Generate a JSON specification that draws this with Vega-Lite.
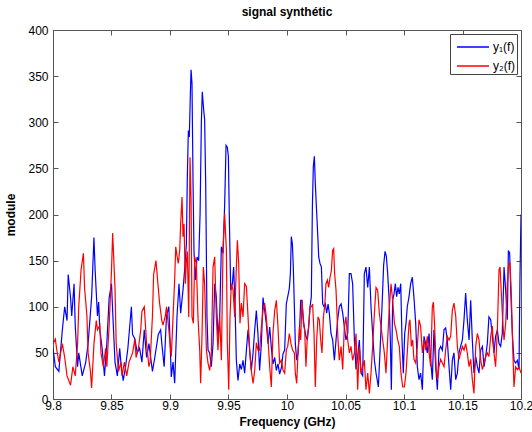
{
  "$schema": "https://vega.github.io/schema/vega-lite/v6.json",
  "width": 468,
  "height": 369,
  "autosize": {"type": "none"},
  "padding": {"left": 53, "top": 30, "right": 11, "bottom": 33},
  "title": {"text": "signal synthétic", "font": "Liberation Sans", "fontSize": 12, "fontWeight": "bold", "color": "black", "offset": 5},
  "datasets": {
    "sig": [
      {"f":9.800,"v":55,"s":"y₁(f)"},{"f":9.802,"v":35,"s":"y₁(f)"},{"f":9.805,"v":30,"s":"y₁(f)"},{"f":9.808,"v":75,"s":"y₁(f)"},{"f":9.810,"v":100,"s":"y₁(f)"},{"f":9.812,"v":85,"s":"y₁(f)"},{"f":9.813,"v":135,"s":"y₁(f)"},{"f":9.815,"v":110,"s":"y₁(f)"},{"f":9.816,"v":90,"s":"y₁(f)"},{"f":9.818,"v":125,"s":"y₁(f)"},{"f":9.819,"v":80,"s":"y₁(f)"},{"f":9.821,"v":35,"s":"y₁(f)"},{"f":9.822,"v":50,"s":"y₁(f)"},{"f":9.825,"v":25,"s":"y₁(f)"},{"f":9.828,"v":40,"s":"y₁(f)"},{"f":9.830,"v":60,"s":"y₁(f)"},{"f":9.833,"v":110,"s":"y₁(f)"},{"f":9.835,"v":175,"s":"y₁(f)"},{"f":9.836,"v":140,"s":"y₁(f)"},{"f":9.838,"v":90,"s":"y₁(f)"},{"f":9.839,"v":105,"s":"y₁(f)"},{"f":9.840,"v":75,"s":"y₁(f)"},{"f":9.842,"v":55,"s":"y₁(f)"},{"f":9.844,"v":25,"s":"y₁(f)"},{"f":9.846,"v":60,"s":"y₁(f)"},{"f":9.848,"v":110,"s":"y₁(f)"},{"f":9.850,"v":125,"s":"y₁(f)"},{"f":9.851,"v":95,"s":"y₁(f)"},{"f":9.853,"v":40,"s":"y₁(f)"},{"f":9.855,"v":25,"s":"y₁(f)"},{"f":9.857,"v":55,"s":"y₁(f)"},{"f":9.858,"v":40,"s":"y₁(f)"},{"f":9.860,"v":20,"s":"y₁(f)"},{"f":9.862,"v":35,"s":"y₁(f)"},{"f":9.864,"v":55,"s":"y₁(f)"},{"f":9.867,"v":100,"s":"y₁(f)"},{"f":9.868,"v":70,"s":"y₁(f)"},{"f":9.870,"v":65,"s":"y₁(f)"},{"f":9.872,"v":50,"s":"y₁(f)"},{"f":9.874,"v":55,"s":"y₁(f)"},{"f":9.876,"v":40,"s":"y₁(f)"},{"f":9.878,"v":75,"s":"y₁(f)"},{"f":9.880,"v":45,"s":"y₁(f)"},{"f":9.882,"v":60,"s":"y₁(f)"},{"f":9.885,"v":30,"s":"y₁(f)"},{"f":9.887,"v":45,"s":"y₁(f)"},{"f":9.890,"v":70,"s":"y₁(f)"},{"f":9.892,"v":75,"s":"y₁(f)"},{"f":9.893,"v":60,"s":"y₁(f)"},{"f":9.895,"v":35,"s":"y₁(f)"},{"f":9.897,"v":90,"s":"y₁(f)"},{"f":9.899,"v":100,"s":"y₁(f)"},
      {"f":9.9011,"v":24,"s":"y₁(f)"},{"f":9.9026,"v":40,"s":"y₁(f)"},{"f":9.904,"v":17,"s":"y₁(f)"},{"f":9.906,"v":90,"s":"y₁(f)"},{"f":9.9077,"v":125,"s":"y₁(f)"},{"f":9.9091,"v":93,"s":"y₁(f)"},{"f":9.9111,"v":118,"s":"y₁(f)"},{"f":9.9125,"v":140,"s":"y₁(f)"},{"f":9.914,"v":168,"s":"y₁(f)"},{"f":9.9148,"v":240,"s":"y₁(f)"},{"f":9.9157,"v":291,"s":"y₁(f)"},{"f":9.9165,"v":284,"s":"y₁(f)"},{"f":9.9174,"v":330,"s":"y₁(f)"},{"f":9.918,"v":357,"s":"y₁(f)"},{"f":9.9188,"v":342,"s":"y₁(f)"},{"f":9.9197,"v":234,"s":"y₁(f)"},{"f":9.9205,"v":161,"s":"y₁(f)"},{"f":9.9217,"v":129,"s":"y₁(f)"},{"f":9.9231,"v":154,"s":"y₁(f)"},{"f":9.9245,"v":150,"s":"y₁(f)"},{"f":9.9257,"v":200,"s":"y₁(f)"},{"f":9.9268,"v":300,"s":"y₁(f)"},{"f":9.9276,"v":333,"s":"y₁(f)"},{"f":9.9288,"v":313,"s":"y₁(f)"},{"f":9.9296,"v":303,"s":"y₁(f)"},{"f":9.9305,"v":234,"s":"y₁(f)"},{"f":9.9316,"v":89,"s":"y₁(f)"},{"f":9.9325,"v":53,"s":"y₁(f)"},{"f":9.9339,"v":50,"s":"y₁(f)"},{"f":9.9353,"v":35,"s":"y₁(f)"},{"f":9.9368,"v":60,"s":"y₁(f)"},{"f":9.9382,"v":125,"s":"y₁(f)"},{"f":9.9396,"v":110,"s":"y₁(f)"},{"f":9.941,"v":67,"s":"y₁(f)"},{"f":9.9425,"v":90,"s":"y₁(f)"},{"f":9.9439,"v":165,"s":"y₁(f)"},{"f":9.9453,"v":158,"s":"y₁(f)"},{"f":9.9467,"v":210,"s":"y₁(f)"},{"f":9.9479,"v":275,"s":"y₁(f)"},{"f":9.949,"v":273,"s":"y₁(f)"},{"f":9.9499,"v":263,"s":"y₁(f)"},{"f":9.9507,"v":197,"s":"y₁(f)"},{"f":9.9519,"v":118,"s":"y₁(f)"},{"f":9.9533,"v":125,"s":"y₁(f)"},{"f":9.9544,"v":143,"s":"y₁(f)"},{"f":9.9556,"v":100,"s":"y₁(f)"},{"f":9.9567,"v":42,"s":"y₁(f)"},{"f":9.9581,"v":20,"s":"y₁(f)"},{"f":9.9596,"v":38,"s":"y₁(f)"},{"f":9.961,"v":32,"s":"y₁(f)"},{"f":9.9624,"v":42,"s":"y₁(f)"},{"f":9.9638,"v":28,"s":"y₁(f)"},{"f":9.9653,"v":53,"s":"y₁(f)"},{"f":9.9667,"v":75,"s":"y₁(f)"},{"f":9.9681,"v":53,"s":"y₁(f)"},{"f":9.9695,"v":31,"s":"y₁(f)"},{"f":9.971,"v":50,"s":"y₁(f)"},{"f":9.9724,"v":75,"s":"y₁(f)"},{"f":9.9738,"v":96,"s":"y₁(f)"},{"f":9.9752,"v":70,"s":"y₁(f)"},{"f":9.9766,"v":31,"s":"y₁(f)"},{"f":9.9781,"v":60,"s":"y₁(f)"},{"f":9.9795,"v":110,"s":"y₁(f)"},{"f":9.9809,"v":96,"s":"y₁(f)"},{"f":9.9823,"v":82,"s":"y₁(f)"},{"f":9.9838,"v":60,"s":"y₁(f)"},{"f":9.9852,"v":78,"s":"y₁(f)"},{"f":9.9866,"v":56,"s":"y₁(f)"},{"f":9.988,"v":38,"s":"y₁(f)"},{"f":9.9895,"v":45,"s":"y₁(f)"},{"f":9.9909,"v":31,"s":"y₁(f)"},{"f":9.9923,"v":38,"s":"y₁(f)"},{"f":9.9937,"v":27,"s":"y₁(f)"},{"f":9.9952,"v":34,"s":"y₁(f)"},{"f":9.9966,"v":49,"s":"y₁(f)"},{"f":9.998,"v":53,"s":"y₁(f)"},{"f":9.9994,"v":103,"s":"y₁(f)"},
      {"f":10.002,"v":120,"s":"y₁(f)"},{"f":10.0029,"v":136,"s":"y₁(f)"},{"f":10.0037,"v":176,"s":"y₁(f)"},{"f":10.0046,"v":168,"s":"y₁(f)"},{"f":10.0054,"v":143,"s":"y₁(f)"},{"f":10.0063,"v":100,"s":"y₁(f)"},{"f":10.0071,"v":60,"s":"y₁(f)"},{"f":10.0083,"v":42,"s":"y₁(f)"},{"f":10.0094,"v":50,"s":"y₁(f)"},{"f":10.0106,"v":71,"s":"y₁(f)"},{"f":10.0117,"v":107,"s":"y₁(f)"},{"f":10.0128,"v":107,"s":"y₁(f)"},{"f":10.014,"v":86,"s":"y₁(f)"},{"f":10.0151,"v":75,"s":"y₁(f)"},{"f":10.0162,"v":68,"s":"y₁(f)"},{"f":10.0174,"v":64,"s":"y₁(f)"},{"f":10.0185,"v":78,"s":"y₁(f)"},{"f":10.0197,"v":100,"s":"y₁(f)"},{"f":10.0208,"v":111,"s":"y₁(f)"},{"f":10.0217,"v":209,"s":"y₁(f)"},{"f":10.0225,"v":252,"s":"y₁(f)"},{"f":10.0234,"v":263,"s":"y₁(f)"},{"f":10.0242,"v":234,"s":"y₁(f)"},{"f":10.0251,"v":209,"s":"y₁(f)"},{"f":10.0262,"v":180,"s":"y₁(f)"},{"f":10.0271,"v":154,"s":"y₁(f)"},{"f":10.0282,"v":147,"s":"y₁(f)"},{"f":10.0294,"v":143,"s":"y₁(f)"},{"f":10.0305,"v":103,"s":"y₁(f)"},{"f":10.0316,"v":100,"s":"y₁(f)"},{"f":10.0328,"v":103,"s":"y₁(f)"},{"f":10.0339,"v":93,"s":"y₁(f)"},{"f":10.0351,"v":103,"s":"y₁(f)"},{"f":10.0362,"v":93,"s":"y₁(f)"},{"f":10.0376,"v":71,"s":"y₁(f)"},{"f":10.039,"v":64,"s":"y₁(f)"},{"f":10.0405,"v":42,"s":"y₁(f)"},{"f":10.0419,"v":64,"s":"y₁(f)"},{"f":10.0433,"v":86,"s":"y₁(f)"},{"f":10.0447,"v":100,"s":"y₁(f)"},{"f":10.0462,"v":103,"s":"y₁(f)"},{"f":10.0476,"v":93,"s":"y₁(f)"},{"f":10.049,"v":78,"s":"y₁(f)"},{"f":10.0504,"v":64,"s":"y₁(f)"},{"f":10.0519,"v":71,"s":"y₁(f)"},{"f":10.0533,"v":136,"s":"y₁(f)"},{"f":10.0547,"v":136,"s":"y₁(f)"},{"f":10.0561,"v":125,"s":"y₁(f)"},{"f":10.0576,"v":64,"s":"y₁(f)"},{"f":10.059,"v":32,"s":"y₁(f)"},{"f":10.0604,"v":46,"s":"y₁(f)"},{"f":10.0618,"v":64,"s":"y₁(f)"},{"f":10.0633,"v":28,"s":"y₁(f)"},{"f":10.0647,"v":25,"s":"y₁(f)"},{"f":10.0661,"v":136,"s":"y₁(f)"},{"f":10.0675,"v":143,"s":"y₁(f)"},{"f":10.069,"v":121,"s":"y₁(f)"},{"f":10.0704,"v":143,"s":"y₁(f)"},{"f":10.0718,"v":100,"s":"y₁(f)"},{"f":10.0732,"v":71,"s":"y₁(f)"},{"f":10.0747,"v":42,"s":"y₁(f)"},{"f":10.0761,"v":28,"s":"y₁(f)"},{"f":10.0781,"v":13,"s":"y₁(f)"},{"f":10.0798,"v":60,"s":"y₁(f)"},{"f":10.0812,"v":100,"s":"y₁(f)"},{"f":10.0826,"v":145,"s":"y₁(f)"},{"f":10.0838,"v":160,"s":"y₁(f)"},{"f":10.0849,"v":155,"s":"y₁(f)"},{"f":10.0861,"v":135,"s":"y₁(f)"},{"f":10.0872,"v":110,"s":"y₁(f)"},{"f":10.0883,"v":65,"s":"y₁(f)"},{"f":10.0892,"v":10,"s":"y₁(f)"},{"f":10.0903,"v":107,"s":"y₁(f)"},{"f":10.0915,"v":114,"s":"y₁(f)"},{"f":10.0926,"v":125,"s":"y₁(f)"},{"f":10.0937,"v":111,"s":"y₁(f)"},{"f":10.0949,"v":121,"s":"y₁(f)"},{"f":10.096,"v":114,"s":"y₁(f)"},{"f":10.0972,"v":125,"s":"y₁(f)"},{"f":10.0983,"v":64,"s":"y₁(f)"},{"f":10.0994,"v":28,"s":"y₁(f)"},{"f":10.1006,"v":71,"s":"y₁(f)"},{"f":10.1017,"v":82,"s":"y₁(f)"},
      {"f":10.1028,"v":100,"s":"y₁(f)"},{"f":10.1043,"v":111,"s":"y₁(f)"},{"f":10.1057,"v":125,"s":"y₁(f)"},{"f":10.1071,"v":132,"s":"y₁(f)"},{"f":10.1085,"v":110,"s":"y₁(f)"},{"f":10.11,"v":82,"s":"y₁(f)"},{"f":10.1114,"v":35,"s":"y₁(f)"},{"f":10.1128,"v":21,"s":"y₁(f)"},{"f":10.1142,"v":28,"s":"y₁(f)"},{"f":10.1157,"v":10,"s":"y₁(f)"},{"f":10.1171,"v":68,"s":"y₁(f)"},{"f":10.1185,"v":60,"s":"y₁(f)"},{"f":10.1199,"v":50,"s":"y₁(f)"},{"f":10.1214,"v":71,"s":"y₁(f)"},{"f":10.1228,"v":42,"s":"y₁(f)"},{"f":10.1242,"v":21,"s":"y₁(f)"},{"f":10.1256,"v":75,"s":"y₁(f)"},{"f":10.1271,"v":35,"s":"y₁(f)"},{"f":10.1285,"v":10,"s":"y₁(f)"},{"f":10.1299,"v":53,"s":"y₁(f)"},{"f":10.1313,"v":57,"s":"y₁(f)"},{"f":10.1328,"v":53,"s":"y₁(f)"},{"f":10.1342,"v":75,"s":"y₁(f)"},{"f":10.1356,"v":77,"s":"y₁(f)"},{"f":10.137,"v":64,"s":"y₁(f)"},{"f":10.1385,"v":35,"s":"y₁(f)"},{"f":10.1399,"v":10,"s":"y₁(f)"},{"f":10.1413,"v":42,"s":"y₁(f)"},{"f":10.1427,"v":50,"s":"y₁(f)"},{"f":10.1442,"v":21,"s":"y₁(f)"},{"f":10.1456,"v":28,"s":"y₁(f)"},{"f":10.147,"v":50,"s":"y₁(f)"},{"f":10.1484,"v":57,"s":"y₁(f)"},{"f":10.1499,"v":64,"s":"y₁(f)"},{"f":10.1513,"v":86,"s":"y₁(f)"},{"f":10.1527,"v":115,"s":"y₁(f)"},{"f":10.1541,"v":86,"s":"y₁(f)"},{"f":10.1556,"v":64,"s":"y₁(f)"},{"f":10.157,"v":107,"s":"y₁(f)"},{"f":10.1584,"v":64,"s":"y₁(f)"},{"f":10.1598,"v":28,"s":"y₁(f)"},{"f":10.1613,"v":46,"s":"y₁(f)"},{"f":10.1627,"v":35,"s":"y₁(f)"},{"f":10.1641,"v":28,"s":"y₁(f)"},{"f":10.1655,"v":53,"s":"y₁(f)"},{"f":10.167,"v":57,"s":"y₁(f)"},{"f":10.1684,"v":35,"s":"y₁(f)"},{"f":10.1698,"v":46,"s":"y₁(f)"},{"f":10.1712,"v":60,"s":"y₁(f)"},{"f":10.1726,"v":89,"s":"y₁(f)"},{"f":10.1741,"v":86,"s":"y₁(f)"},{"f":10.1755,"v":68,"s":"y₁(f)"},{"f":10.1769,"v":50,"s":"y₁(f)"},{"f":10.1783,"v":68,"s":"y₁(f)"},{"f":10.1798,"v":75,"s":"y₁(f)"},{"f":10.1812,"v":60,"s":"y₁(f)"},{"f":10.1826,"v":57,"s":"y₁(f)"},{"f":10.184,"v":71,"s":"y₁(f)"},{"f":10.1855,"v":143,"s":"y₁(f)"},{"f":10.1869,"v":118,"s":"y₁(f)"},{"f":10.1883,"v":86,"s":"y₁(f)"},{"f":10.1892,"v":161,"s":"y₁(f)"},{"f":10.1903,"v":158,"s":"y₁(f)"},{"f":10.1912,"v":118,"s":"y₁(f)"},{"f":10.1926,"v":71,"s":"y₁(f)"},{"f":10.194,"v":42,"s":"y₁(f)"},{"f":10.1954,"v":39,"s":"y₁(f)"},{"f":10.1969,"v":42,"s":"y₁(f)"},{"f":10.1983,"v":32,"s":"y₁(f)"},{"f":10.1991,"v":129,"s":"y₁(f)"},{"f":10.2,"v":200,"s":"y₁(f)"},

      {"f":9.800,"v":60,"s":"y₂(f)"},{"f":9.802,"v":65,"s":"y₂(f)"},{"f":9.803,"v":55,"s":"y₂(f)"},{"f":9.805,"v":40,"s":"y₂(f)"},{"f":9.808,"v":60,"s":"y₂(f)"},{"f":9.810,"v":45,"s":"y₂(f)"},{"f":9.812,"v":25,"s":"y₂(f)"},{"f":9.815,"v":15,"s":"y₂(f)"},{"f":9.817,"v":35,"s":"y₂(f)"},{"f":9.819,"v":25,"s":"y₂(f)"},{"f":9.821,"v":60,"s":"y₂(f)"},{"f":9.822,"v":100,"s":"y₂(f)"},{"f":9.824,"v":140,"s":"y₂(f)"},{"f":9.826,"v":158,"s":"y₂(f)"},{"f":9.827,"v":120,"s":"y₂(f)"},{"f":9.829,"v":90,"s":"y₂(f)"},{"f":9.830,"v":50,"s":"y₂(f)"},{"f":9.832,"v":30,"s":"y₂(f)"},{"f":9.833,"v":12,"s":"y₂(f)"},{"f":9.835,"v":60,"s":"y₂(f)"},{"f":9.837,"v":85,"s":"y₂(f)"},{"f":9.838,"v":75,"s":"y₂(f)"},{"f":9.840,"v":80,"s":"y₂(f)"},{"f":9.841,"v":50,"s":"y₂(f)"},{"f":9.843,"v":35,"s":"y₂(f)"},{"f":9.845,"v":55,"s":"y₂(f)"},{"f":9.846,"v":35,"s":"y₂(f)"},{"f":9.848,"v":80,"s":"y₂(f)"},{"f":9.850,"v":140,"s":"y₂(f)"},{"f":9.851,"v":180,"s":"y₂(f)"},{"f":9.853,"v":120,"s":"y₂(f)"},{"f":9.854,"v":60,"s":"y₂(f)"},{"f":9.856,"v":30,"s":"y₂(f)"},{"f":9.858,"v":40,"s":"y₂(f)"},{"f":9.859,"v":25,"s":"y₂(f)"},{"f":9.861,"v":40,"s":"y₂(f)"},{"f":9.863,"v":25,"s":"y₂(f)"},{"f":9.865,"v":40,"s":"y₂(f)"},{"f":9.868,"v":50,"s":"y₂(f)"},{"f":9.870,"v":65,"s":"y₂(f)"},{"f":9.871,"v":45,"s":"y₂(f)"},{"f":9.873,"v":55,"s":"y₂(f)"},{"f":9.875,"v":75,"s":"y₂(f)"},{"f":9.876,"v":95,"s":"y₂(f)"},{"f":9.878,"v":100,"s":"y₂(f)"},{"f":9.879,"v":80,"s":"y₂(f)"},{"f":9.880,"v":60,"s":"y₂(f)"},{"f":9.882,"v":35,"s":"y₂(f)"},{"f":9.883,"v":40,"s":"y₂(f)"},{"f":9.885,"v":90,"s":"y₂(f)"},{"f":9.886,"v":135,"s":"y₂(f)"},{"f":9.888,"v":150,"s":"y₂(f)"},{"f":9.890,"v":120,"s":"y₂(f)"},{"f":9.891,"v":105,"s":"y₂(f)"},{"f":9.893,"v":85,"s":"y₂(f)"},{"f":9.894,"v":80,"s":"y₂(f)"},{"f":9.896,"v":90,"s":"y₂(f)"},{"f":9.897,"v":100,"s":"y₂(f)"},{"f":9.899,"v":75,"s":"y₂(f)"},
      {"f":9.9011,"v":46,"s":"y₂(f)"},{"f":9.9026,"v":89,"s":"y₂(f)"},{"f":9.904,"v":130,"s":"y₂(f)"},{"f":9.9049,"v":165,"s":"y₂(f)"},{"f":9.906,"v":155,"s":"y₂(f)"},{"f":9.9071,"v":147,"s":"y₂(f)"},{"f":9.9083,"v":161,"s":"y₂(f)"},{"f":9.9091,"v":190,"s":"y₂(f)"},{"f":9.9103,"v":219,"s":"y₂(f)"},{"f":9.9111,"v":176,"s":"y₂(f)"},{"f":9.912,"v":190,"s":"y₂(f)"},{"f":9.9131,"v":125,"s":"y₂(f)"},{"f":9.914,"v":150,"s":"y₂(f)"},{"f":9.9148,"v":160,"s":"y₂(f)"},{"f":9.916,"v":89,"s":"y₂(f)"},{"f":9.9171,"v":262,"s":"y₂(f)"},{"f":9.918,"v":216,"s":"y₂(f)"},{"f":9.9188,"v":89,"s":"y₂(f)"},{"f":9.92,"v":82,"s":"y₂(f)"},{"f":9.9211,"v":154,"s":"y₂(f)"},{"f":9.9225,"v":147,"s":"y₂(f)"},{"f":9.9239,"v":89,"s":"y₂(f)"},{"f":9.9254,"v":53,"s":"y₂(f)"},{"f":9.9262,"v":17,"s":"y₂(f)"},{"f":9.9274,"v":71,"s":"y₂(f)"},{"f":9.9285,"v":143,"s":"y₂(f)"},{"f":9.9296,"v":125,"s":"y₂(f)"},{"f":9.9311,"v":53,"s":"y₂(f)"},{"f":9.9325,"v":39,"s":"y₂(f)"},{"f":9.9339,"v":31,"s":"y₂(f)"},{"f":9.9353,"v":46,"s":"y₂(f)"},{"f":9.9368,"v":143,"s":"y₂(f)"},{"f":9.9382,"v":154,"s":"y₂(f)"},{"f":9.9396,"v":89,"s":"y₂(f)"},{"f":9.941,"v":53,"s":"y₂(f)"},{"f":9.9425,"v":89,"s":"y₂(f)"},{"f":9.9439,"v":42,"s":"y₂(f)"},{"f":9.9453,"v":161,"s":"y₂(f)"},{"f":9.9467,"v":201,"s":"y₂(f)"},{"f":9.9482,"v":161,"s":"y₂(f)"},{"f":9.949,"v":61,"s":"y₂(f)"},{"f":9.9502,"v":10,"s":"y₂(f)"},{"f":9.9513,"v":89,"s":"y₂(f)"},{"f":9.9524,"v":125,"s":"y₂(f)"},{"f":9.9539,"v":118,"s":"y₂(f)"},{"f":9.9553,"v":89,"s":"y₂(f)"},{"f":9.9567,"v":143,"s":"y₂(f)"},{"f":9.9576,"v":172,"s":"y₂(f)"},{"f":9.9587,"v":147,"s":"y₂(f)"},{"f":9.9598,"v":82,"s":"y₂(f)"},{"f":9.961,"v":104,"s":"y₂(f)"},{"f":9.9624,"v":89,"s":"y₂(f)"},{"f":9.9638,"v":125,"s":"y₂(f)"},{"f":9.9653,"v":122,"s":"y₂(f)"},{"f":9.9667,"v":89,"s":"y₂(f)"},{"f":9.9681,"v":53,"s":"y₂(f)"},{"f":9.9695,"v":31,"s":"y₂(f)"},{"f":9.971,"v":17,"s":"y₂(f)"},{"f":9.9724,"v":31,"s":"y₂(f)"},{"f":9.9738,"v":61,"s":"y₂(f)"},{"f":9.9752,"v":53,"s":"y₂(f)"},{"f":9.9766,"v":53,"s":"y₂(f)"},{"f":9.9781,"v":78,"s":"y₂(f)"},{"f":9.9795,"v":96,"s":"y₂(f)"},{"f":9.9809,"v":104,"s":"y₂(f)"},{"f":9.9823,"v":89,"s":"y₂(f)"},{"f":9.9838,"v":64,"s":"y₂(f)"},{"f":9.9852,"v":35,"s":"y₂(f)"},{"f":9.9866,"v":13,"s":"y₂(f)"},{"f":9.988,"v":71,"s":"y₂(f)"},{"f":9.9895,"v":96,"s":"y₂(f)"},{"f":9.9909,"v":107,"s":"y₂(f)"},{"f":9.9923,"v":78,"s":"y₂(f)"},{"f":9.9937,"v":39,"s":"y₂(f)"},{"f":9.9952,"v":42,"s":"y₂(f)"},{"f":9.9966,"v":31,"s":"y₂(f)"},{"f":9.998,"v":28,"s":"y₂(f)"},{"f":9.9994,"v":53,"s":"y₂(f)"},
      {"f":10.0006,"v":57,"s":"y₂(f)"},{"f":10.002,"v":71,"s":"y₂(f)"},{"f":10.0034,"v":60,"s":"y₂(f)"},{"f":10.0048,"v":53,"s":"y₂(f)"},{"f":10.0063,"v":50,"s":"y₂(f)"},{"f":10.0071,"v":28,"s":"y₂(f)"},{"f":10.0083,"v":17,"s":"y₂(f)"},{"f":10.0094,"v":50,"s":"y₂(f)"},{"f":10.0106,"v":78,"s":"y₂(f)"},{"f":10.0117,"v":64,"s":"y₂(f)"},{"f":10.0128,"v":107,"s":"y₂(f)"},{"f":10.014,"v":82,"s":"y₂(f)"},{"f":10.0151,"v":75,"s":"y₂(f)"},{"f":10.0162,"v":35,"s":"y₂(f)"},{"f":10.0174,"v":68,"s":"y₂(f)"},{"f":10.0185,"v":78,"s":"y₂(f)"},{"f":10.0197,"v":100,"s":"y₂(f)"},{"f":10.0208,"v":100,"s":"y₂(f)"},{"f":10.0219,"v":103,"s":"y₂(f)"},{"f":10.0231,"v":71,"s":"y₂(f)"},{"f":10.0242,"v":13,"s":"y₂(f)"},{"f":10.0254,"v":64,"s":"y₂(f)"},{"f":10.0265,"v":89,"s":"y₂(f)"},{"f":10.0276,"v":86,"s":"y₂(f)"},{"f":10.0288,"v":64,"s":"y₂(f)"},{"f":10.0299,"v":50,"s":"y₂(f)"},{"f":10.0311,"v":89,"s":"y₂(f)"},{"f":10.0322,"v":100,"s":"y₂(f)"},{"f":10.0333,"v":125,"s":"y₂(f)"},{"f":10.0345,"v":129,"s":"y₂(f)"},{"f":10.0356,"v":121,"s":"y₂(f)"},{"f":10.0368,"v":132,"s":"y₂(f)"},{"f":10.0379,"v":139,"s":"y₂(f)"},{"f":10.039,"v":161,"s":"y₂(f)"},{"f":10.0399,"v":163,"s":"y₂(f)"},{"f":10.0407,"v":136,"s":"y₂(f)"},{"f":10.0419,"v":118,"s":"y₂(f)"},{"f":10.0427,"v":93,"s":"y₂(f)"},{"f":10.0436,"v":64,"s":"y₂(f)"},{"f":10.0447,"v":42,"s":"y₂(f)"},{"f":10.0462,"v":57,"s":"y₂(f)"},{"f":10.0476,"v":32,"s":"y₂(f)"},{"f":10.049,"v":78,"s":"y₂(f)"},{"f":10.0504,"v":89,"s":"y₂(f)"},{"f":10.0519,"v":64,"s":"y₂(f)"},{"f":10.0533,"v":50,"s":"y₂(f)"},{"f":10.0547,"v":57,"s":"y₂(f)"},{"f":10.0561,"v":42,"s":"y₂(f)"},{"f":10.0576,"v":50,"s":"y₂(f)"},{"f":10.059,"v":71,"s":"y₂(f)"},{"f":10.0604,"v":10,"s":"y₂(f)"},{"f":10.0618,"v":57,"s":"y₂(f)"},{"f":10.0633,"v":28,"s":"y₂(f)"},{"f":10.0647,"v":35,"s":"y₂(f)"},{"f":10.0661,"v":42,"s":"y₂(f)"},{"f":10.0675,"v":10,"s":"y₂(f)"},{"f":10.069,"v":28,"s":"y₂(f)"},{"f":10.0704,"v":6,"s":"y₂(f)"},{"f":10.0718,"v":28,"s":"y₂(f)"},{"f":10.0732,"v":57,"s":"y₂(f)"},{"f":10.0747,"v":93,"s":"y₂(f)"},{"f":10.0761,"v":121,"s":"y₂(f)"},{"f":10.0775,"v":118,"s":"y₂(f)"},{"f":10.0789,"v":93,"s":"y₂(f)"},{"f":10.0804,"v":78,"s":"y₂(f)"},{"f":10.0818,"v":64,"s":"y₂(f)"},{"f":10.0832,"v":50,"s":"y₂(f)"},{"f":10.0846,"v":28,"s":"y₂(f)"},{"f":10.086,"v":64,"s":"y₂(f)"},{"f":10.0875,"v":100,"s":"y₂(f)"},{"f":10.0889,"v":125,"s":"y₂(f)"},{"f":10.0903,"v":107,"s":"y₂(f)"},{"f":10.0918,"v":82,"s":"y₂(f)"},{"f":10.0932,"v":75,"s":"y₂(f)"},{"f":10.0946,"v":64,"s":"y₂(f)"},{"f":10.096,"v":57,"s":"y₂(f)"},{"f":10.0974,"v":28,"s":"y₂(f)"},{"f":10.0989,"v":13,"s":"y₂(f)"},{"f":10.1003,"v":13,"s":"y₂(f)"},{"f":10.1017,"v":28,"s":"y₂(f)"},{"f":10.1031,"v":57,"s":"y₂(f)"},
      {"f":10.1043,"v":82,"s":"y₂(f)"},{"f":10.1051,"v":86,"s":"y₂(f)"},{"f":10.1063,"v":57,"s":"y₂(f)"},{"f":10.1074,"v":64,"s":"y₂(f)"},{"f":10.1085,"v":43,"s":"y₂(f)"},{"f":10.11,"v":39,"s":"y₂(f)"},{"f":10.1114,"v":57,"s":"y₂(f)"},{"f":10.1128,"v":86,"s":"y₂(f)"},{"f":10.1142,"v":79,"s":"y₂(f)"},{"f":10.1157,"v":50,"s":"y₂(f)"},{"f":10.1171,"v":64,"s":"y₂(f)"},{"f":10.1185,"v":53,"s":"y₂(f)"},{"f":10.1199,"v":68,"s":"y₂(f)"},{"f":10.1214,"v":50,"s":"y₂(f)"},{"f":10.1228,"v":35,"s":"y₂(f)"},{"f":10.1242,"v":100,"s":"y₂(f)"},{"f":10.1251,"v":105,"s":"y₂(f)"},{"f":10.1262,"v":79,"s":"y₂(f)"},{"f":10.1274,"v":35,"s":"y₂(f)"},{"f":10.1285,"v":21,"s":"y₂(f)"},{"f":10.1299,"v":35,"s":"y₂(f)"},{"f":10.1313,"v":43,"s":"y₂(f)"},{"f":10.1328,"v":39,"s":"y₂(f)"},{"f":10.1342,"v":35,"s":"y₂(f)"},{"f":10.1356,"v":53,"s":"y₂(f)"},{"f":10.137,"v":68,"s":"y₂(f)"},{"f":10.1385,"v":64,"s":"y₂(f)"},{"f":10.1399,"v":68,"s":"y₂(f)"},{"f":10.1413,"v":96,"s":"y₂(f)"},{"f":10.1427,"v":104,"s":"y₂(f)"},{"f":10.1442,"v":90,"s":"y₂(f)"},{"f":10.1456,"v":57,"s":"y₂(f)"},{"f":10.147,"v":43,"s":"y₂(f)"},{"f":10.1484,"v":50,"s":"y₂(f)"},{"f":10.1499,"v":57,"s":"y₂(f)"},{"f":10.1513,"v":53,"s":"y₂(f)"},{"f":10.1527,"v":60,"s":"y₂(f)"},{"f":10.1541,"v":50,"s":"y₂(f)"},{"f":10.1556,"v":35,"s":"y₂(f)"},{"f":10.157,"v":43,"s":"y₂(f)"},{"f":10.1584,"v":21,"s":"y₂(f)"},{"f":10.1598,"v":6,"s":"y₂(f)"},{"f":10.1613,"v":57,"s":"y₂(f)"},{"f":10.1627,"v":71,"s":"y₂(f)"},{"f":10.1641,"v":64,"s":"y₂(f)"},{"f":10.1655,"v":43,"s":"y₂(f)"},{"f":10.167,"v":32,"s":"y₂(f)"},{"f":10.1684,"v":39,"s":"y₂(f)"},{"f":10.1698,"v":46,"s":"y₂(f)"},{"f":10.1712,"v":50,"s":"y₂(f)"},{"f":10.1726,"v":46,"s":"y₂(f)"},{"f":10.1741,"v":68,"s":"y₂(f)"},{"f":10.1755,"v":79,"s":"y₂(f)"},{"f":10.1769,"v":50,"s":"y₂(f)"},{"f":10.1783,"v":35,"s":"y₂(f)"},{"f":10.1798,"v":75,"s":"y₂(f)"},{"f":10.1812,"v":140,"s":"y₂(f)"},{"f":10.1821,"v":143,"s":"y₂(f)"},{"f":10.1832,"v":115,"s":"y₂(f)"},{"f":10.1843,"v":86,"s":"y₂(f)"},{"f":10.1855,"v":64,"s":"y₂(f)"},{"f":10.1869,"v":82,"s":"y₂(f)"},{"f":10.1883,"v":125,"s":"y₂(f)"},{"f":10.1895,"v":147,"s":"y₂(f)"},{"f":10.1906,"v":147,"s":"y₂(f)"},{"f":10.1917,"v":115,"s":"y₂(f)"},{"f":10.1929,"v":57,"s":"y₂(f)"},{"f":10.194,"v":13,"s":"y₂(f)"},{"f":10.1954,"v":35,"s":"y₂(f)"},{"f":10.1969,"v":32,"s":"y₂(f)"},{"f":10.1983,"v":35,"s":"y₂(f)"},{"f":10.2,"v":28,"s":"y₂(f)"}
    ]
  },
  "data": {"name": "sig"},
  "layer": [
    {
      "mark": {"type": "line", "strokeWidth": 1.2, "clip": true},
      "encoding": {
        "x": {"field": "f", "type": "quantitative", "scale": {"domain": [9.8, 10.2], "nice": false, "zero": false},
          "axis": {"orient": "bottom", "values": [9.8, 9.85, 9.9, 9.95, 10, 10.05, 10.1, 10.15, 10.2], "format": "~g", "tickSize": -5, "labelPadding": 6, "labelFlush": false, "labelOverlap": false, "title": "Frequency (GHz)", "titlePadding": 5}},
        "y": {"field": "v", "type": "quantitative", "scale": {"domain": [0, 400], "nice": false},
          "axis": {"orient": "left", "values": [0, 50, 100, 150, 200, 250, 300, 350, 400], "tickSize": -5, "labelPadding": 10, "labelOverlap": false, "title": "module", "titlePadding": 10}},
        "color": {"field": "s", "type": "nominal", "scale": {"domain": ["y₁(f)", "y₂(f)"], "range": ["#0000ff", "#ff0000"]},
          "legend": {"title": null, "orient": "top-right", "offset": 4, "strokeColor": "#444", "fillColor": "white", "padding": 2, "symbolType": "M-1.6,0H1.6", "symbolSize": 400, "symbolStrokeWidth": 1.5, "symbolOffset": 10, "rowPadding": 2, "labelFontSize": 12, "labelFont": "Liberation Sans", "labelColor": "black", "labelOffset": 9}}
      }
    },
    {
      "mark": {"type": "line", "opacity": 0},
      "encoding": {
        "x": {"field": "f", "type": "quantitative", "axis": {"orient": "top", "values": [9.8, 9.85, 9.9, 9.95, 10, 10.05, 10.1, 10.15, 10.2], "labels": false, "tickSize": -5, "title": null}},
        "y": {"field": "v", "type": "quantitative", "axis": {"orient": "right", "values": [0, 50, 100, 150, 200, 250, 300, 350, 400], "labels": false, "tickSize": -5, "title": null}},
        "detail": {"field": "s", "type": "nominal"}
      }
    }
  ],
  "resolve": {"axis": {"x": "independent", "y": "independent"}},
  "config": {
    "font": "Liberation Sans",
    "view": {"stroke": "#555", "strokeWidth": 1},
    "axis": {"grid": false, "domainColor": "#555", "tickColor": "#555", "labelColor": "black", "labelFont": "Liberation Sans", "labelFontSize": 12, "titleFont": "Liberation Sans", "titleFontSize": 12, "titleFontWeight": "bold", "titleColor": "black"}
  }
}
